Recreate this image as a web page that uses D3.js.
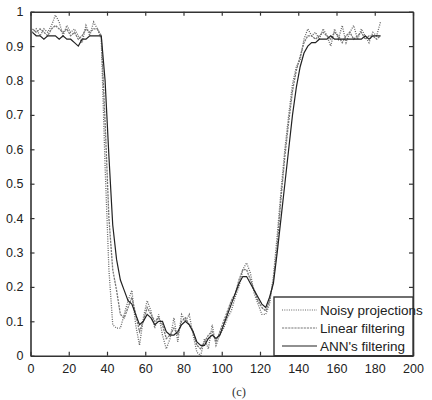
<!DOCTYPE html>
<html><head><meta charset="utf-8">
<script src="https://cdn.jsdelivr.net/npm/d3@7"></script>
<style>body{margin:0;background:#fff}svg{display:block}</style>
</head><body>
<script>
const xs = d3.range(1, 184, 2);
const ann = [0.94,0.93,0.93,0.92,0.93,0.93,0.93,0.92,0.93,0.92,0.92,0.91,0.90,0.92,0.92,0.93,0.93,0.93,0.93,0.80,0.58,0.38,0.28,0.22,0.19,0.16,0.15,0.12,0.09,0.10,0.12,0.11,0.09,0.10,0.10,0.07,0.06,0.06,0.07,0.09,0.10,0.09,0.07,0.04,0.03,0.03,0.05,0.06,0.05,0.06,0.09,0.12,0.15,0.18,0.21,0.23,0.23,0.21,0.19,0.17,0.15,0.14,0.17,0.21,0.30,0.40,0.50,0.60,0.70,0.78,0.84,0.88,0.90,0.91,0.91,0.92,0.92,0.92,0.93,0.92,0.92,0.92,0.92,0.92,0.92,0.92,0.92,0.93,0.92,0.93,0.93,0.93];
const linear = [0.95,0.94,0.95,0.94,0.93,0.95,0.96,0.95,0.94,0.95,0.93,0.94,0.92,0.93,0.95,0.94,0.95,0.95,0.93,0.68,0.40,0.25,0.19,0.12,0.11,0.14,0.17,0.12,0.07,0.10,0.14,0.12,0.10,0.11,0.09,0.05,0.06,0.08,0.06,0.10,0.11,0.09,0.07,0.03,0.02,0.04,0.06,0.07,0.04,0.07,0.10,0.13,0.16,0.18,0.22,0.25,0.25,0.22,0.19,0.16,0.14,0.13,0.16,0.22,0.32,0.46,0.58,0.68,0.77,0.83,0.87,0.91,0.93,0.93,0.92,0.93,0.94,0.93,0.92,0.94,0.93,0.91,0.93,0.94,0.92,0.93,0.94,0.92,0.93,0.93,0.92,0.93];
const noisy = [0.94,0.95,0.93,0.95,0.94,0.96,0.99,0.97,0.93,0.96,0.94,0.95,0.93,0.91,0.96,0.93,0.97,0.95,0.92,0.55,0.25,0.09,0.08,0.08,0.12,0.16,0.19,0.09,0.03,0.11,0.16,0.13,0.08,0.12,0.06,0.02,0.05,0.11,0.04,0.12,0.10,0.12,0.06,0.01,0.00,0.05,0.02,0.09,0.03,0.06,0.08,0.11,0.13,0.17,0.20,0.25,0.27,0.24,0.18,0.15,0.12,0.12,0.15,0.23,0.35,0.48,0.60,0.70,0.79,0.84,0.86,0.92,0.95,0.93,0.94,0.92,0.95,0.93,0.90,0.95,0.92,0.96,0.91,0.94,0.96,0.92,0.95,0.93,0.91,0.94,0.93,0.97];
const xTicks = [0,20,40,60,80,100,120,140,160,180,200];
const yTicks = [0,0.1,0.2,0.3,0.4,0.5,0.6,0.7,0.8,0.9,1];
const yLabels = ["0","0.1","0.2","0.3","0.4","0.5","0.6","0.7","0.8","0.9","1"];
const seriesNames = ["Noisy projections","Linear filtering","ANN's filtering"];

const W=432,H=400;
const L=30.5,R=413,T=11.7,B=355.7;
const svg=d3.select("body").append("svg").attr("width",W).attr("height",H);
const x=d3.scaleLinear().domain([0,200]).range([L,R]);
const y=d3.scaleLinear().domain([0,1]).range([B,T]);
const font="'Liberation Sans Narrow', 'Arial Narrow', 'Liberation Sans', sans-serif";

const styles=[
 {stroke:"#666",dash:"1,1.3",w:1.3},
 {stroke:"#777",dash:"2.2,0.9",w:1.3},
 {stroke:"#222",dash:null,w:1.2}
];
const data=[noisy,linear,ann];
const line=d3.line().x((d,i)=>x(xs[i])).y(d=>y(d));
data.forEach((s,k)=>{
  svg.append("path").datum(s).attr("d",line).attr("fill","none")
    .attr("stroke",styles[k].stroke).attr("stroke-width",styles[k].w)
    .attr("stroke-dasharray",styles[k].dash);
});

const gB=svg.append("g").attr("transform",`translate(0,${B})`)
  .call(d3.axisBottom(x).tickValues(xTicks).tickSizeInner(-4).tickSizeOuter(0).tickPadding(8));
const gT=svg.append("g").attr("transform",`translate(0,${T})`)
  .call(d3.axisTop(x).tickValues(xTicks).tickSizeInner(-4).tickSizeOuter(0).tickFormat(""));
const gL=svg.append("g").attr("transform",`translate(${L},0)`)
  .call(d3.axisLeft(y).tickValues(yTicks).tickSizeInner(-4).tickSizeOuter(0).tickPadding(7).tickFormat((d,i)=>yLabels[i]));
const gR=svg.append("g").attr("transform",`translate(${R},0)`)
  .call(d3.axisRight(y).tickValues(yTicks).tickSizeInner(-4).tickSizeOuter(0).tickFormat(""));
[gB,gT,gL,gR].forEach(g=>{
  g.select(".domain").attr("stroke","#333").attr("stroke-width",1.6);
  g.selectAll(".tick line").attr("stroke","#333").attr("stroke-width",1.2);
  g.selectAll("text").attr("font-family",font).attr("font-size",12.5).attr("fill","#222");
});

const lg=svg.append("g");
const lx0=274, ly0=297;
lg.append("rect").attr("x",lx0).attr("y",ly0).attr("width",R-lx0).attr("height",B-ly0)
  .attr("fill","#fff").attr("stroke","#333").attr("stroke-width",1.4);
seriesNames.forEach((n,k)=>{
  const yy=ly0+13+k*18;
  lg.append("line").attr("x1",282).attr("x2",317).attr("y1",yy).attr("y2",yy)
    .attr("stroke",styles[k].stroke).attr("stroke-width",1.2).attr("stroke-dasharray",styles[k].dash);
  lg.append("text").attr("x",320).attr("y",yy+4.5).text(n)
    .attr("font-family",font).attr("font-size",13.5).attr("fill","#222");
});

svg.append("text").attr("x",239).attr("y",396).attr("text-anchor","middle").text("(c)")
  .attr("font-family","'Liberation Serif', serif").attr("font-size",12.5).attr("fill","#333");
</script>
</body></html>
